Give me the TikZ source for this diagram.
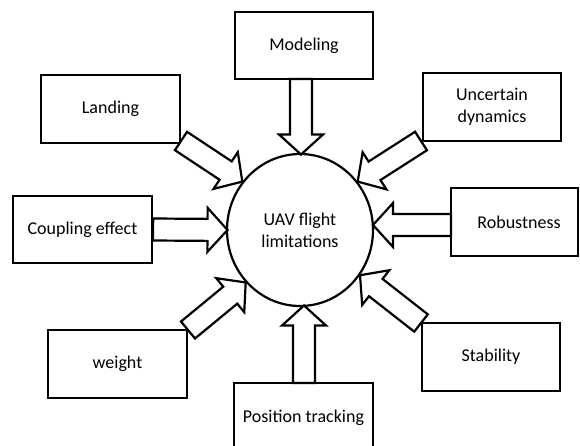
\documentclass[tikz,border=0pt]{standalone}
\usepackage{fontspec}
\setmainfont{Carlito}
\usetikzlibrary{calc,shapes.geometric}

\tikzset{
  lbl/.style={font=\fontsize{18}{22}\selectfont, align=center},
  box/.style={lbl, draw, line width=2.2pt, fill=white, inner sep=0pt,
              minimum width=138pt, minimum height=68pt},
  hub/.style={lbl, draw, ellipse, line width=2.2pt, inner sep=0pt,
              minimum width=146pt, minimum height=152pt},
  blockarrow/.style={draw, line width=2.2pt, fill=white, line join=miter},
}

% hollow block arrow from #1 (tail) to #2 (tip)
\newcommand\blockarrow[2]{%
  \coordinate (ba-h) at ($(#2)!20pt!(#1)$);
  \draw[blockarrow]
    ($(#1)!11pt!90:(#2)$) -- ($(ba-h)!11pt!90:(#2)$) -- ($(ba-h)!22pt!90:(#2)$)
    -- (#2)
    -- ($(ba-h)!22pt!-90:(#2)$) -- ($(ba-h)!11pt!-90:(#2)$) -- ($(#1)!11pt!-90:(#2)$)
    -- cycle;
}

\begin{document}
\begin{tikzpicture}[x=1pt, y=-1pt]
  \useasboundingbox (0,0) rectangle (580,445);
  \fill[white] (0,0) rectangle (580,445);
  \clip (0,0) rectangle (580,445);

  % central topic
  \node[hub] (c) at (300,230) {UAV flight\\limitations};

  % surrounding factors
  \node[box, minimum height=67pt] (modeling) at (304,45.5) {Modeling};
  \node[box, minimum width=139pt] (landing) at (110.5,109) {Landing};
  \node[box] (uncertain) at (492,107) {Uncertain\\dynamics};
  \node[box, minimum width=127pt] (robust) at (514.5,222) {\hspace*{9pt}Robustness};
  \node[box, minimum width=139pt, minimum height=67pt] (coupling) at (82.5,229.5) {Coupling effect};
  \node[box, minimum width=139pt] (weight) at (117.5,364) {weight};
  \node[box, minimum width=139pt, minimum height=70pt] (position) at (303.5,418) {Position tracking};
  \node[box] (stability) at (491,357) {Stability};

  % arrow ends
  \coordinate (t-mod) at (301,79);
  \coordinate (p-mod) at (301,154.5);
  \coordinate (t-pos) at (304,383);
  \coordinate (p-pos) at (304,305.5);
  \coordinate (t-cpl) at (coupling.east);
  \coordinate (p-cpl) at (227.5,230);
  \coordinate (t-rob) at (451,225);
  \coordinate (p-rob) at (373,225);
  \coordinate (t-lan) at (181,141);
  \coordinate (t-unc) at (421,141);
  \coordinate (t-wei) at (188,330);
  \coordinate (t-sta) at (421,323);

  \blockarrow{t-mod}{p-mod}
  \blockarrow{t-pos}{p-pos}
  \blockarrow{t-cpl}{p-cpl}
  \blockarrow{t-rob}{p-rob}
  \blockarrow{t-lan}{c.140}
  \blockarrow{t-unc}{c.40}
  \blockarrow{t-wei}{c.-136}
  \blockarrow{t-sta}{c.-37}
\end{tikzpicture}
\end{document}
